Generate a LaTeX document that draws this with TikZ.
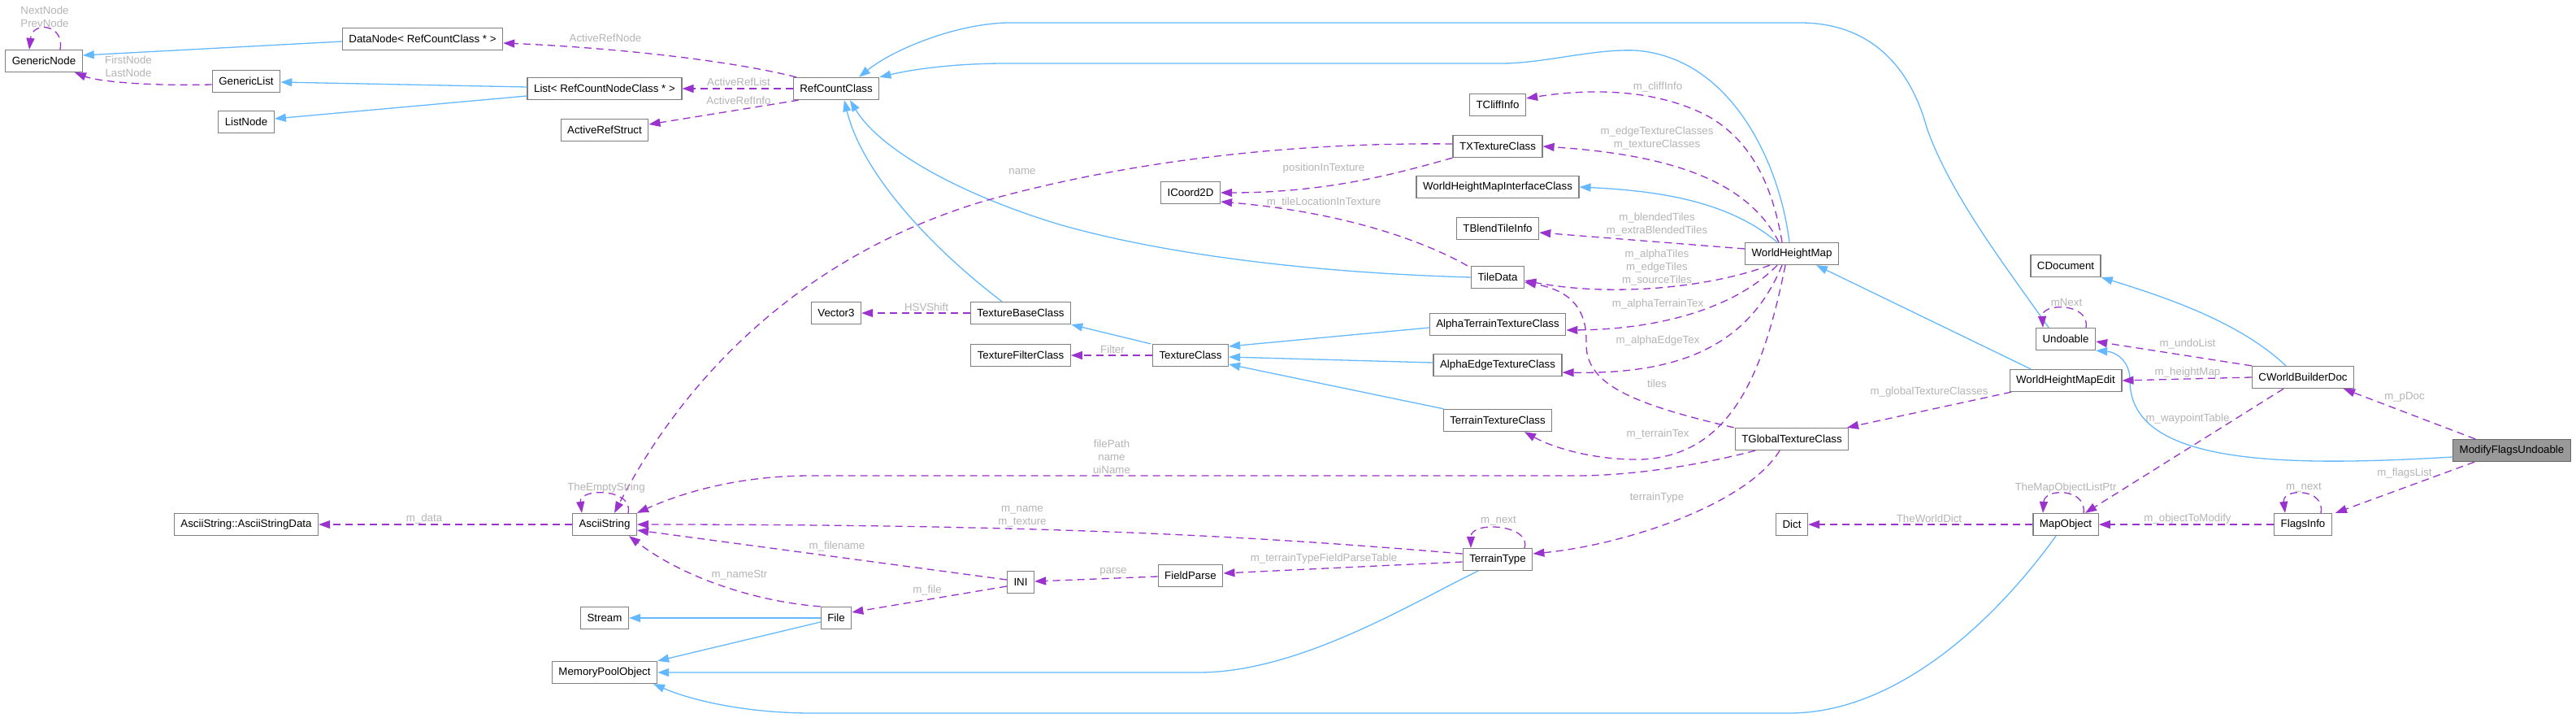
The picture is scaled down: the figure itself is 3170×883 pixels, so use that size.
\documentclass[tikz,border=0pt]{standalone}
\usepackage{fontspec}
\setmainfont{Liberation Sans}
\usetikzlibrary{arrows.meta}
\definecolor{inhblue}{HTML}{63B8FF}
\definecolor{usepurple}{HTML}{9A32CD}
\definecolor{boxgray}{HTML}{7F7F7F}
\definecolor{lblgray}{HTML}{B4B4B4}
\definecolor{focusfill}{HTML}{999999}
\definecolor{focusdraw}{HTML}{666666}
\newcommand{\dxfont}{\fontsize{13.3}{16}\selectfont}
\tikzset{
  classbox/.style={draw=boxgray, fill=white, line width=1.3pt, minimum height=27pt, inner xsep=8pt, inner ysep=0pt, font=\dxfont},
  focusbox/.style={classbox, fill=focusfill, draw=focusdraw},
  inherit/.style={draw=inhblue, line width=1.3pt, -{Triangle[length=14pt,width=10pt]}},
  member/.style={draw=usepurple, line width=1.3pt, dash pattern=on 9pt off 6pt, -{Triangle[length=14pt,width=10pt]}},
  elabel/.style={text=lblgray, font=\dxfont, inner sep=0pt, align=center}
}
\begin{document}
\begin{tikzpicture}[x=1pt,y=-1pt]
            \useasboundingbox (0,0) rectangle (3170,883);

            \node[classbox] (GenericNode) at (54,75) {GenericNode};
            \node[classbox] (DataNode) at (520,48) {DataNode< RefCountClass * >};
            \node[classbox] (GenericList) at (303,100) {GenericList};
            \node[classbox] (ListNode) at (303,150) {ListNode};
            \node[classbox] (List) at (744,109) {List< RefCountNodeClass * >};
            \node[classbox] (ActiveRefStruct) at (744,160) {ActiveRefStruct};
            \node[classbox] (RefCountClass) at (1029,109) {RefCountClass};
            \node[classbox] (Vector3) at (1029,385) {Vector3};
            \node[classbox] (TextureBaseClass) at (1256,385) {TextureBaseClass};
            \node[classbox] (TextureFilterClass) at (1256,437) {TextureFilterClass};
            \node[classbox] (TextureClass) at (1465,437) {TextureClass};
            \node[classbox] (ICoord2D) at (1465,237) {ICoord2D};
            \node[classbox] (FieldParse) at (1465,708) {FieldParse};
            \node[classbox] (TCliffInfo) at (1843,129) {TCliffInfo};
            \node[classbox] (TXTextureClass) at (1843,180) {TXTextureClass};
            \node[classbox] (WHMInterface) at (1843,230) {WorldHeightMapInterfaceClass};
            \node[classbox] (TBlendTileInfo) at (1843,281) {TBlendTileInfo};
            \node[classbox] (TileData) at (1843,341) {TileData};
            \node[classbox] (AlphaTerrain) at (1843,399) {AlphaTerrainTextureClass};
            \node[classbox] (AlphaEdge) at (1843,449) {AlphaEdgeTextureClass};
            \node[classbox] (TerrainTexture) at (1843,517) {TerrainTextureClass};
            \node[classbox] (TerrainType) at (1843,688) {TerrainType};
            \node[classbox] (WorldHeightMap) at (2205,312) {WorldHeightMap};
            \node[classbox] (TGlobalTexture) at (2205,540) {TGlobalTextureClass};
            \node[classbox] (Dict) at (2205,645) {Dict};
            \node[classbox] (CDocument) at (2542,327) {CDocument};
            \node[classbox] (Undoable) at (2542,417) {Undoable};
            \node[classbox] (WHMEdit) at (2542,468) {WorldHeightMapEdit};
            \node[classbox] (MapObject) at (2542,645) {MapObject};
            \node[classbox] (CWorldBuilderDoc) at (2834,464) {CWorldBuilderDoc};
            \node[classbox] (FlagsInfo) at (2834,645) {FlagsInfo};
            \node[focusbox] (ModifyFlags) at (3091,554) {ModifyFlagsUndoable};
            \node[classbox] (AsciiStringData) at (303,645) {AsciiString::AsciiStringData};
            \node[classbox] (AsciiString) at (744,645) {AsciiString};
            \node[classbox] (Stream) at (744,760) {Stream};
            \node[classbox] (MemoryPool) at (744,827) {MemoryPoolObject};
            \node[classbox] (File) at (1029,760) {File};
            \node[classbox] (INI) at (1256,716) {INI};

            \draw[inherit] ([yshift=-3]DataNode.west) -- ([yshift=7]GenericNode.east);
            \draw[inherit] ([yshift=2]List.west) -- ([yshift=-1]GenericList.east);
            \draw[inherit] ([yshift=-9]List.west) -- ([yshift=4]ListNode.east);
            \draw[inherit] ([xshift=-21]Undoable.north) .. controls (2470,330) and (2400,240) .. (2371,157) .. controls (2350,80) and (2300,28) .. (2215,28) -- (1243,28) .. controls (1180,28) and (1100,60) .. ([xshift=28]RefCountClass.north);
            \draw[inherit] ([xshift=-3]WorldHeightMap.north) .. controls (2190,200) and (2130,70) .. (2012,62) .. controls (1960,60) and (1900,78) .. (1847,78) -- (1238,78) .. controls (1170,78) and (1120,86) .. (RefCountClass.north east);
            \draw[inherit] (TileData.west) .. controls (1600,335) and (1420,310) .. (1300,275) .. controls (1170,235) and (1080,180) .. ([xshift=17]RefCountClass.south);
            \draw[inherit] ([xshift=-23]TextureBaseClass.north) .. controls (1140,300) and (1060,210) .. ([xshift=10]RefCountClass.south);
            \draw[inherit] ([xshift=-49]TextureClass.north) -- (TextureBaseClass.south east);
            \draw[inherit] ([yshift=-4]AlphaTerrain.west) -- ([yshift=11]TextureClass.east);
            \draw[inherit] ([yshift=3]AlphaEdge.west) -- ([yshift=-2]TextureClass.east);
            \draw[inherit] ([xshift=1]TerrainTexture.north west) -- ([yshift=-11]TextureClass.east);
            \draw[inherit] ([xshift=-18]WorldHeightMap.north) .. controls (2130,250) and (2050,235) .. (WHMInterface.east);
            \draw[inherit] ([xshift=-43]WHMEdit.north) -- ([xshift=30]WorldHeightMap.south);
            \draw[inherit] ([xshift=-21]CWorldBuilderDoc.north) .. controls (2760,400) and (2680,370) .. (CDocument.south east);
            \draw[inherit] ([yshift=-8]ModifyFlags.west) .. controls (2800,575) and (2620,570) .. (2621,467) .. controls (2621,445) and (2605,433) .. (Undoable.south east);
            \draw[inherit] (File.west) -- (Stream.east);
            \draw[inherit] ([yshift=-5]File.west) -- (MemoryPool.north east);
            \draw[inherit] ([xshift=-24]TerrainType.south) .. controls (1740,740) and (1600,827) .. (1475,827) -- (MemoryPool.east);
            \draw[inherit] ([xshift=-12]MapObject.south) .. controls (2450,770) and (2330,877) .. (2202,877) -- (998,877) .. controls (930,877) and (860,865) .. ([xshift=60]MemoryPool.south);

            \draw[member] ([xshift=20]GenericNode.north) .. controls (80,30) and (40,25) .. ([xshift=-18]GenericNode.north);
            \node[elabel] (lNextNode) at (55,21) {NextNode\\PrevNode};
            \draw[member] ([yshift=-4]GenericList.west) .. controls (180,106) and (120,100) .. ([xshift=38]GenericNode.south);
            \node[elabel] (lFirstNode) at (158,82) {FirstNode\\LastNode};
            \draw[member] ([xshift=-49]RefCountClass.north) .. controls (880,70) and (720,57) .. ([yshift=-5]DataNode.east);
            \node[elabel] (lActiveRefNode) at (745,47) {ActiveRefNode};
            \draw[member] (RefCountClass.west) -- (List.east);
            \node[elabel] (lActiveRefList) at (909,101) {ActiveRefList};
            \draw[member] ([xshift=7]RefCountClass.south west) -- ([yshift=7]ActiveRefStruct.east);
            \node[elabel] (lActiveRefInfo) at (909,124) {ActiveRefInfo};
            \draw[member] ([yshift=3]TXTextureClass.west) .. controls (1600,175) and (1400,195) .. (1212,247) .. controls (1000,310) and (850,450) .. ([xshift=12]AsciiString.north);
            \node[elabel] (lName) at (1258,211) {name};
            \draw[member] (TXTextureClass.south west) .. controls (1730,210) and (1640,237) .. (ICoord2D.east);
            \node[elabel] (lPosition) at (1629,207) {positionInTexture};
            \draw[member] ([xshift=-4]TileData.north west) .. controls (1740,290) and (1640,260) .. ([yshift=-11]ICoord2D.east);
            \node[elabel] (lTileLocation) at (1629,249) {m\_tileLocationInTexture};
            \draw[member] (TextureBaseClass.west) -- (Vector3.east);
            \node[elabel] (lHSVShift) at (1140,378) {HSVShift};
            \draw[member] (TextureClass.west) -- (TextureFilterClass.east);
            \node[elabel] (lFilter) at (1369,430) {Filter};
            \draw[member] ([xshift=-12]WorldHeightMap.north) .. controls (2180,220) and (2150,170) .. (2102,143) .. controls (2040,110) and (1960,108) .. ([yshift=8]TCliffInfo.east);
            \node[elabel] (lCliffInfo) at (2040,107) {m\_cliffInfo};
            \draw[member] ([xshift=-16]WorldHeightMap.north) .. controls (2150,220) and (2050,190) .. (TXTextureClass.east);
            \node[elabel] (lTextureClasses) at (2039,170) {m\_edgeTextureClasses\\m\_textureClasses};
            \draw[member] ([yshift=6]WorldHeightMap.west) -- ([yshift=-5]TBlendTileInfo.east);
            \node[elabel] (lBlendedTiles) at (2039,276) {m\_blendedTiles\\m\_extraBlendedTiles};
            \draw[member] ([xshift=-27]WorldHeightMap.south) .. controls (2100,355) and (1980,365) .. ([yshift=-4]TileData.east);
            \node[elabel] (lAlphaTiles) at (2039,329) {m\_alphaTiles\\m\_edgeTiles\\m\_sourceTiles};
            \draw[member] ([xshift=-18]WorldHeightMap.south) .. controls (2140,375) and (2050,405) .. ([yshift=-7]AlphaTerrain.east);
            \node[elabel] (lAlphaTerrainTex) at (2040,374) {m\_alphaTerrainTex};
            \draw[member] ([xshift=-12]WorldHeightMap.south) .. controls (2150,430) and (2060,460) .. ([yshift=-9]AlphaEdge.east);
            \node[elabel] (lAlphaEdgeTex) at (2040,419) {m\_alphaEdgeTex};
            \draw[member] ([xshift=-1]TGlobalTexture.north west) .. controls (2000,495) and (1950,470) .. (1952,420) .. controls (1953,370) and (1920,355) .. ([yshift=-6]TileData.east);
            \node[elabel] (lTiles) at (2039,472) {tiles};
            \draw[member] ([xshift=-8]WorldHeightMap.south) .. controls (2170,460) and (2130,560) .. (2020,565) .. controls (1960,566) and (1910,550) .. ([xshift=33]TerrainTexture.south);
            \node[elabel] (lTerrainTex) at (2040,534) {m\_terrainTex};
            \draw[member] ([xshift=-45]TGlobalTexture.south) .. controls (2080,575) and (2000,585) .. (1940,585) -- (998,585) .. controls (900,585) and (830,610) .. (AsciiString.north east);
            \node[elabel] (lFilePath) at (1368,562) {filePath\\name\\uiName};
            \draw[member] ([xshift=-15]TGlobalTexture.south) .. controls (2150,620) and (2000,670) .. ([yshift=7]TerrainType.east);
            \node[elabel] (lTerrainType) at (2039,612) {terrainType};
            \draw[member] ([xshift=-67]WHMEdit.south) -- ([xshift=68]TGlobalTexture.north);
            \node[elabel] (lGlobalTexture) at (2374,482) {m\_globalTextureClasses};
            \draw[member] ([xshift=33]TerrainType.north) .. controls (1885,645) and (1810,640) .. ([xshift=-33]TerrainType.north);
            \node[elabel] (lTerrainNext) at (1844,641) {m\_next};
            \draw[member] ([yshift=7]TerrainType.west) .. controls (1550,660) and (1300,645) .. (AsciiString.east);
            \node[elabel] (lNameTexture) at (1258,635) {m\_name\\m\_texture};
            \draw[member] ([yshift=-3]TerrainType.west) -- ([yshift=3]FieldParse.east);
            \node[elabel] (lFieldParseTable) at (1629,687) {m\_terrainTypeFieldParseTable};
            \draw[member] ([yshift=-1]FieldParse.west) -- ([yshift=1]INI.east);
            \node[elabel] (lParse) at (1370,703) {parse};
            \draw[member] ([yshift=3]INI.west) -- ([yshift=-7]AsciiString.east);
            \node[elabel] (lFilename) at (1030,672) {m\_filename};
            \draw[member] ([yshift=-5]INI.west) -- ([yshift=7]File.east);
            \node[elabel] (lFile) at (1141,726) {m\_file};
            \draw[member] (File.north west) .. controls (930,740) and (840,710) .. ([xshift=30]AsciiString.south);
            \node[elabel] (lNameStr) at (910,707) {m\_nameStr};
            \draw[member] ([xshift=29]AsciiString.north) .. controls (780,600) and (712,600) .. ([xshift=-28]AsciiString.north);
            \node[elabel] (lEmptyString) at (746,600) {TheEmptyString};
            \draw[member] (AsciiString.west) -- (AsciiStringData.east);
            \node[elabel] (lData) at (522,638) {m\_data};
            \draw[member] (CWorldBuilderDoc.north west) -- ([yshift=-3]Undoable.east);
            \node[elabel] (lUndoList) at (2692,423) {m\_undoList};
            \draw[member] (CWorldBuilderDoc.west) -- (WHMEdit.east);
            \node[elabel] (lHeightMap) at (2692,458) {m\_heightMap};
            \draw[member] ([xshift=-24]CWorldBuilderDoc.south) -- ([xshift=24]MapObject.north);
            \node[elabel] (lWaypointTable) at (2692,515) {m\_waypointTable};
            \draw[member] ([xshift=-45]ModifyFlags.north) -- ([xshift=50]CWorldBuilderDoc.south);
            \node[elabel] (lPDoc) at (2959,488) {m\_pDoc};
            \draw[member] ([xshift=-46]ModifyFlags.south) -- ([xshift=40]FlagsInfo.north);
            \node[elabel] (lFlagsList) at (2959,582) {m\_flagsList};
            \draw[member] ([xshift=22]FlagsInfo.north) .. controls (2862,600) and (2808,600) .. ([xshift=-22]FlagsInfo.north);
            \node[elabel] (lFlagsNext) at (2835,600) {m\_next};
            \draw[member] (FlagsInfo.west) -- (MapObject.east);
            \node[elabel] (lObjectToModify) at (2692,638) {m\_objectToModify};
            \draw[member] ([xshift=22]MapObject.north) .. controls (2568,600) and (2516,600) .. ([xshift=-28]MapObject.north);
            \node[elabel] (lMapObjectList) at (2542,600) {TheMapObjectListPtr};
            \draw[member] (MapObject.west) -- (Dict.east);
            \node[elabel] (lWorldDict) at (2374,638) {TheWorldDict};
            \draw[member] ([xshift=25]Undoable.north) .. controls (2572,372) and (2512,372) .. ([xshift=-28]Undoable.north);
            \node[elabel] (lMNext) at (2543,372) {mNext};
         \end{tikzpicture}
\end{document}
